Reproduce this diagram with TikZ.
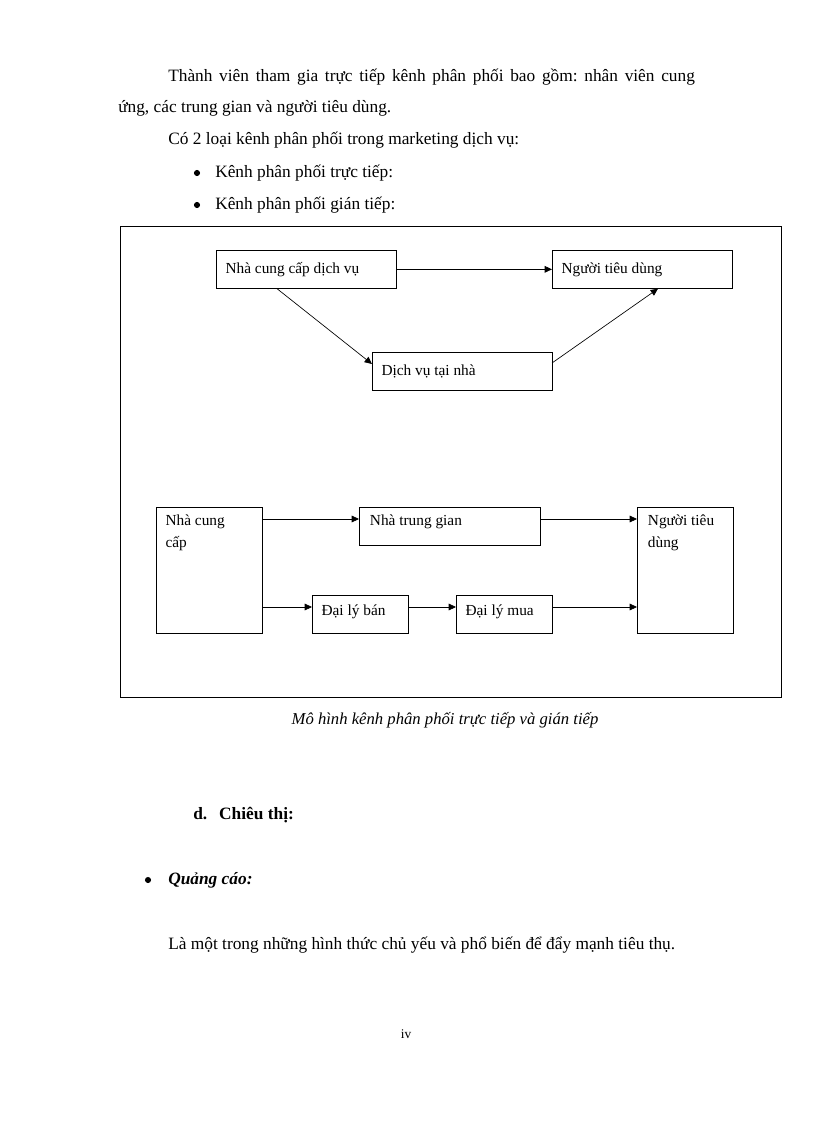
\documentclass[tikz,border=0pt]{standalone}
\usepackage{fontspec}
\setmainfont{Liberation Serif}
\usetikzlibrary{arrows.meta,positioning}
\tikzset{
  txt/.style={anchor=west, inner sep=0pt, font=\fontsize{13}{15}\selectfont\frenchspacing, text height=0.7em, text depth=0.2em},
  dot/.style={circle, fill, inner sep=0pt, minimum size=4.6pt},
  box/.style={draw, line width=0.6pt, anchor=north west, inner sep=0pt, outer sep=0pt},
  lbl/.style={anchor=north west, inner sep=0pt, align=left, font=\fontsize{11.5}{16.5}\selectfont},
  arr/.style={-{Triangle[length=5.5pt,width=5pt]}, line width=0.5pt}
}
\begin{document}
\begin{tikzpicture}[x=0.75pt, y=-0.75pt]
\useasboundingbox (0,0) rectangle (816,1123);

% doan van dau trang
\node[txt] (l1) at (168,78) {\makebox[395pt][s]{Thành viên tham gia trực tiếp kênh phân phối bao gồm: nhân viên cung}};
\node[txt] (l2) at (118,109) {ứng, các trung gian và người tiêu dùng.};
\node[txt] (l3) at (168,141) {Có 2 loại kênh phân phối trong marketing dịch vụ:};
\node[dot] (d1) at (197,173) {};
\node[txt] (b1) at (215,174) {Kênh phân phối trực tiếp:};
\node[dot] (d2) at (197,205) {};
\node[txt] (b2) at (215,206) {Kênh phân phối gián tiếp:};

% khung mo hinh
\draw[line width=0.7pt] (120,226) rectangle (781,697);

% kenh truc tiep
\node[box, minimum width=135pt, minimum height=29pt, label={[lbl, anchor=west]west:\hspace{7pt}Nhà cung cấp dịch vụ}] (ncc) at (216,250) {};
\node[box, minimum width=135pt, minimum height=29pt, label={[lbl, anchor=west]west:\hspace{7pt}Người tiêu dùng}] (ntd) at (552,250) {};
\node[box, minimum width=135pt, minimum height=29pt, label={[lbl, anchor=west]west:\hspace{7pt}Dịch vụ tại nhà}] (dv) at (372,352) {};

\draw[arr] (ncc.east) -- (ntd.west);
\draw[arr] ([shift={(61,0)}]ncc.south west) -- ([shift={(0,12)}]dv.north west);
\draw[arr] ([shift={(0,11)}]dv.north east) -- ([shift={(106,0)}]ntd.south west);

% kenh gian tiep
\node[box, minimum width=80pt, minimum height=95pt, label={[lbl, shift={(7pt,-6pt)}]north west:Nhà cung\\cấp}] (ncc2) at (156,507) {};
\node[box, minimum width=136pt, minimum height=28.5pt, label={[lbl, shift={(8pt,-6pt)}]north west:Nhà trung gian}] (ntg) at (359,507) {};
\node[box, minimum width=72pt, minimum height=95pt, label={[lbl, shift={(8pt,-6pt)}]north west:Người tiêu\\dùng}] (ntd2) at (637,507) {};
\node[box, minimum width=72pt, minimum height=29pt, label={[lbl, shift={(7pt,-7pt)}]north west:Đại lý bán}] (dlb) at (312,595) {};
\node[box, minimum width=72.5pt, minimum height=29pt, label={[lbl, shift={(7pt,-7pt)}]north west:Đại lý mua}] (dlm) at (456,595) {};

\draw[arr] ([shift={(0,12)}]ncc2.north east) -- ([shift={(0,12)}]ntg.north west);
\draw[arr] ([shift={(0,12)}]ntg.north east) -- ([shift={(0,12)}]ntd2.north west);
\draw[arr] ([shift={(0,100)}]ncc2.north east) -- ([shift={(0,12)}]dlb.north west);
\draw[arr] ([shift={(0,12)}]dlb.north east) -- ([shift={(0,12)}]dlm.north west);
\draw[arr] ([shift={(0,12)}]dlm.north east) -- ([shift={(0,100)}]ntd2.north west);

% chu thich
\node[txt, anchor=center, font=\fontsize{12.5}{15}\itshape] (cap) at (445,721) {Mô hình kênh phân phối trực tiếp và gián tiếp};

% phan chieu thi
\node[txt, font=\fontsize{13}{16}\bfseries] (d) at (193,816) {d.\hspace{9pt}Chiêu thị:};
\node[dot] (d3) at (148,880) {};
\node[txt] (qc) at (168,881) {\textbf{\textit{Quảng cáo:}}};
\node[txt] (la) at (168,946) {Là một trong những hình thức chủ yếu và phổ biến để đẩy mạnh tiêu thụ.};

% so trang
\node[txt, anchor=center, font=\fontsize{10}{12}\selectfont] (pg) at (406,1035) {iv};
\end{tikzpicture}
\end{document}
